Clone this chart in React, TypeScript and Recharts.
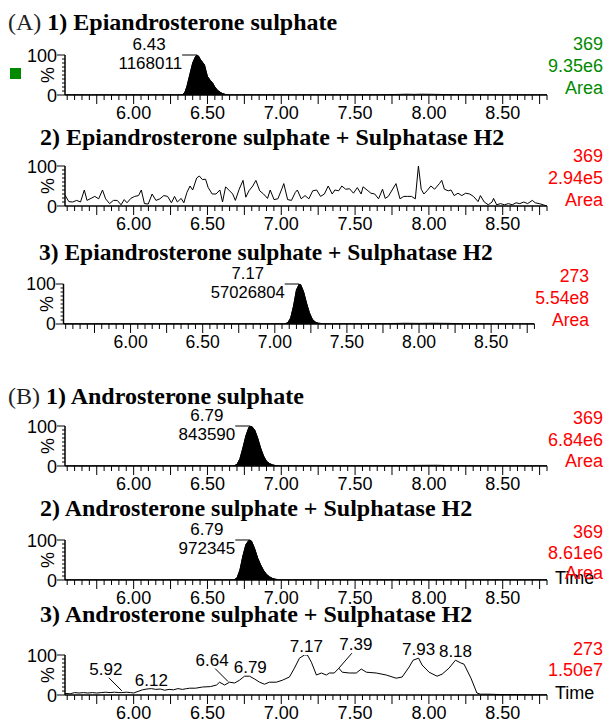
import React from 'react';
import { ComposedChart, Area, Line, XAxis, YAxis, ReferenceDot } from 'recharts';

type Pt = [number, number];

const xTickLabels = ['6.00', '6.50', '7.00', '7.50', '8.00', '8.50'];
const yTickLabels = ['0', '100'];

const a1Trace: Pt[] = [
  [5.535, 0.5], [5.6, 0.6], [5.7, 0.5], [5.8, 0.6], [5.9, 0.5], [6.0, 0.6], [6.1, 0.5], [6.2, 0.6], [6.3, 0.5],
  [6.33, 1], [6.345, 5], [6.36, 20], [6.38, 50], [6.4, 80], [6.42, 97], [6.43, 100], [6.44, 97], [6.45, 90],
  [6.47, 80], [6.48, 75], [6.49, 60], [6.5, 46], [6.52, 36], [6.535, 30], [6.55, 20], [6.57, 11], [6.59, 6],
  [6.6, 4], [6.62, 1.5], [6.65, 0.6], [6.7, 0.5], [6.8, 0.6], [6.9, 0.5], [7.0, 0.6], [7.1, 0.5], [7.2, 0.6],
  [7.3, 0.5], [7.4, 0.6], [7.5, 0.6], [7.6, 0.7], [7.7, 0.8], [7.8, 1.5], [7.85, 2], [7.9, 1.5], [7.95, 2],
  [8.0, 1.8], [8.05, 1.5], [8.1, 1.2], [8.2, 0.8], [8.3, 0.6], [8.4, 0.5], [8.5, 0.5], [8.6, 0.5], [8.7, 0.5], [8.8, 0.5],
];

const a2Trace: Pt[] = [
  [5.535, 27], [5.561, 11], [5.587, 10], [5.614, 14], [5.64, 10], [5.666, 40], [5.684, 14], [5.711, 19], [5.737, 24],
  [5.763, 18], [5.789, 40], [5.81, 18], [5.837, 6], [5.863, 14], [5.889, 14], [5.915, 3], [5.936, 16], [5.955, 8],
  [5.981, 19], [6.007, 24], [6.033, 26], [6.052, 40], [6.073, 6], [6.099, 5], [6.125, 30], [6.151, 14], [6.178, 18],
  [6.204, 26], [6.23, 24], [6.256, 8], [6.277, 24], [6.296, 10], [6.322, 19], [6.34, 8], [6.361, 34], [6.382, 50],
  [6.4, 40], [6.427, 70], [6.445, 75], [6.466, 66], [6.487, 67], [6.505, 46], [6.532, 30], [6.558, 30], [6.584, 40],
  [6.602, 10], [6.623, 48], [6.65, 38], [6.671, 30], [6.689, 14], [6.715, 42], [6.741, 64], [6.76, 22], [6.781, 38],
  [6.807, 50], [6.828, 64], [6.854, 38], [6.88, 30], [6.907, 19], [6.925, 40], [6.951, 16], [6.977, 18], [7.004, 43],
  [7.017, 56], [7.043, 16], [7.069, 14], [7.095, 34], [7.109, 40], [7.135, 18], [7.161, 26], [7.187, 18], [7.213, 38],
  [7.24, 40], [7.266, 24], [7.292, 30], [7.318, 50], [7.345, 30], [7.363, 40], [7.389, 38], [7.41, 50], [7.436, 42],
  [7.463, 43], [7.489, 32], [7.515, 46], [7.541, 30], [7.554, 48], [7.581, 40], [7.607, 32], [7.633, 30], [7.659, 18],
  [7.686, 42], [7.704, 19], [7.725, 24], [7.751, 40], [7.777, 56], [7.804, 18], [7.83, 24], [7.856, 24], [7.882, 24],
  [7.908, 18], [7.929, 100], [7.948, 42], [7.966, 30], [7.987, 38], [8.013, 50], [8.039, 42], [8.071, 56], [8.087, 64],
  [8.105, 42], [8.131, 38], [8.15, 40], [8.171, 26], [8.197, 32], [8.223, 26], [8.249, 32], [8.276, 30], [8.302, 24],
  [8.333, 11], [8.349, 26], [8.375, 10], [8.402, 3], [8.428, 10], [8.438, 19], [8.459, 3], [8.485, 6], [8.512, 3],
  [8.538, 6], [8.564, 3], [8.59, 8], [8.616, 6], [8.643, 10], [8.669, 6], [8.7, 14], [8.721, 8], [8.747, 6],
  [8.774, 3], [8.8, 0],
];

const a3Trace: Pt[] = [
  [5.535, 0.5], [5.7, 0.5], [5.9, 0.6], [6.1, 0.5], [6.3, 0.6], [6.5, 0.6], [6.7, 0.7], [6.9, 0.8], [7.0, 0.8],
  [7.07, 0.8], [7.09, 3], [7.11, 15], [7.13, 45], [7.15, 85], [7.17, 100], [7.18, 98], [7.2, 80], [7.22, 52],
  [7.24, 28], [7.26, 12], [7.28, 5], [7.3, 2], [7.33, 0.8], [7.4, 0.7], [7.5, 0.8], [7.6, 0.7], [7.7, 0.8],
  [7.8, 1.2], [7.9, 1.8], [8.0, 1.5], [8.1, 1.8], [8.2, 1.6], [8.3, 0.8], [8.4, 0.6], [8.6, 0.5], [8.8, 0.5],
];

const b1Trace: Pt[] = [
  [5.535, 0.5], [5.7, 0.5], [5.9, 0.6], [6.1, 0.5], [6.3, 0.6], [6.5, 0.8], [6.6, 0.6], [6.68, 0.6],
  [6.7, 4], [6.72, 18], [6.74, 45], [6.76, 75], [6.78, 96], [6.79, 100], [6.8, 99], [6.82, 90], [6.84, 70],
  [6.86, 45], [6.88, 25], [6.9, 12], [6.92, 6], [6.94, 3], [6.96, 1], [6.98, 0.6], [7.1, 0.7], [7.3, 0.8],
  [7.5, 0.7], [7.7, 0.8], [7.85, 1.2], [7.95, 1.6], [8.05, 1.8], [8.12, 1.2], [8.3, 0.6], [8.5, 0.5], [8.8, 0.5],
];

const b2Trace: Pt[] = [
  [5.535, 0.5], [5.7, 0.5], [5.9, 0.6], [6.1, 0.5], [6.3, 0.6], [6.5, 0.7], [6.6, 0.6], [6.68, 0.6],
  [6.7, 5], [6.72, 25], [6.74, 60], [6.76, 88], [6.78, 99], [6.79, 100], [6.8, 96], [6.82, 78], [6.84, 55],
  [6.86, 38], [6.88, 24], [6.9, 14], [6.92, 8], [6.94, 4], [6.96, 2], [6.98, 0.7], [7.1, 0.6], [7.3, 0.8],
  [7.5, 0.7], [7.7, 0.8], [7.9, 1.0], [8.1, 0.9], [8.3, 0.6], [8.5, 0.5], [8.8, 0.5],
];

const b3Trace: Pt[] = [
  [5.535, 4], [5.57, 3], [5.6, 6], [5.63, 5], [5.66, 6], [5.69, 5], [5.72, 6], [5.75, 5], [5.78, 6], [5.81, 7],
  [5.84, 6], [5.87, 7], [5.9, 6], [5.92, 6], [5.95, 7], [5.98, 6], [6.0, 5], [6.03, 9], [6.06, 13], [6.09, 15],
  [6.12, 16], [6.15, 14], [6.18, 15], [6.21, 12], [6.24, 14], [6.27, 13], [6.3, 16], [6.33, 14], [6.36, 16],
  [6.38, 17], [6.42, 17], [6.467, 20], [6.52, 21], [6.562, 25], [6.582, 32], [6.616, 25], [6.65, 32], [6.684, 30],
  [6.717, 37], [6.751, 47], [6.785, 47], [6.819, 40], [6.853, 32], [6.886, 27], [6.92, 32], [6.967, 32],
  [7.008, 37], [7.055, 45], [7.089, 67], [7.123, 92], [7.157, 100], [7.17, 100], [7.177, 100], [7.204, 82],
  [7.238, 50], [7.272, 55], [7.305, 50], [7.326, 55], [7.359, 55], [7.39, 67], [7.413, 57], [7.461, 55],
  [7.508, 55], [7.542, 65], [7.576, 57], [7.643, 55], [7.711, 50], [7.778, 42], [7.819, 45], [7.866, 70],
  [7.893, 87], [7.93, 92], [7.954, 75], [8.001, 57], [8.055, 47], [8.089, 52], [8.136, 67], [8.18, 87],
  [8.217, 80], [8.238, 77], [8.285, 42], [8.325, 5], [8.35, 2], [8.4, 2], [8.5, 1], [8.6, 1], [8.7, 0.5], [8.8, 0.5],
];

type Peak = { t: number; v: number; area?: string };

const a1Peaks: Peak[] = [{ t: 6.43, v: 100, area: '1168011' }];
const a3Peaks: Peak[] = [{ t: 7.17, v: 100, area: '57026804' }];
const b1Peaks: Peak[] = [{ t: 6.79, v: 100, area: '843590' }];
const b2Peaks: Peak[] = [{ t: 6.79, v: 100, area: '972345' }];
const b3Peaks: Peak[] = [
  { t: 5.92, v: 8 }, { t: 6.12, v: 16 }, { t: 6.64, v: 31 }, { t: 6.79, v: 47 },
  { t: 7.17, v: 100 }, { t: 7.39, v: 67 }, { t: 7.93, v: 92 }, { t: 8.18, v: 87 },
];
const b3LabelKinds = ['left', 'above', 'left', 'above', 'above', 'right', 'above', 'above'];

const a1Info = ['369', '9.35e6', 'Area'];
const a2Info = ['369', '2.94e5', 'Area'];
const a3Info = ['273', '5.54e8', 'Area'];
const b1Info = ['369', '6.84e6', 'Area'];
const b2Info = ['369', '8.61e6', 'Area'];
const b3Info = ['273', '1.50e7'];

const xTicks: number[] = [];
for (let k = 111; k <= 176; k++) xTicks.push(k / 20);
const yTicks: number[] = [];
for (let k = 0; k <= 10; k++) yTicks.push(k * 10);

const SANS = '"Liberation Sans", Arial, sans-serif';
const SERIF = '"Liberation Serif", "Times New Roman", serif';
const GREEN = '#008a00';
const RED = '#ff0000';

const XTick = (props: any) => {
  const { x, y, payload } = props;
  const val = payload.value as number;
  const h = Math.round(val * 100);
  const major = h % 25 === 0;
  const lab = xTickLabels.find((l) => Math.round(parseFloat(l) * 100) === h);
  return (
    <g>
      <line x1={x} x2={x} y1={y} y2={y + (major ? 9 : 5)} stroke="#000" strokeWidth={1} />
      {lab && (
        <text x={x} y={y + 24} textAnchor="middle" fontSize={18} fontFamily={SANS} fill="#000">
          {lab}
        </text>
      )}
    </g>
  );
};

const YTick = (props: any) => {
  const { x, y, payload } = props;
  const val = payload.value as number;
  const lab = yTickLabels.find((l) => parseFloat(l) === val);
  return (
    <g>
      <line x1={x - (lab ? 8 : 3)} x2={x} y1={y} y2={y} stroke="#000" strokeWidth={1} />
      {lab && (
        <text x={x - 8} y={y + 6.5} textAnchor="end" fontSize={18} fontFamily={SANS} fill="#000">
          {lab}
        </text>
      )}
      {val === 50 && (
        <text
          x={x - 17}
          y={y + 6}
          transform={`rotate(-90 ${x - 17} ${y})`}
          textAnchor="middle"
          fontSize={18}
          fontFamily={SANS}
          fill="#000"
        >
          %
        </text>
      )}
    </g>
  );
};

const annText = (x: number, y: number, s: string, anchor: string = 'middle') => (
  <text x={x} y={y} textAnchor={anchor as any} fontSize={17} fontFamily={SANS} fill="#000">
    {s}
  </text>
);

const makeShape = (p: Peak, kind: string) => (props: any) => {
  const cx = props.cx as number;
  const cy = props.cy as number;
  const lbl = p.t.toFixed(2);
  if (kind === 'box' && p.area) {
    const w = p.area.length * 9.45;
    const right = cx - 15;
    return (
      <g>
        <line x1={right} x2={cx} y1={cy} y2={cy} stroke="#000" strokeWidth={1} />
        {annText(right - w / 2, cy - 5, lbl)}
        {annText(right, cy + 14, p.area, 'end')}
      </g>
    );
  }
  if (kind === 'left') {
    return (
      <g>
        <line x1={cx - 13} y1={cy - 14} x2={cx} y2={cy - 1} stroke="#000" strokeWidth={1} />
        {annText(cx - 16, cy - 17, lbl)}
      </g>
    );
  }
  if (kind === 'right') {
    return (
      <g>
        <line x1={cx + 13} y1={cy - 15} x2={cx} y2={cy} stroke="#000" strokeWidth={1} />
        {annText(cx + 17, cy - 18, lbl)}
      </g>
    );
  }
  return <g>{annText(cx, cy - 3, lbl)}</g>;
};

const MT = 30;
const PH = 40;
const XH = 32;
const CH = MT + PH + XH;

type PanelProps = {
  level100: number;
  titleY: number;
  prefix?: string;
  title: string;
  titleX: number;
  trace: Pt[];
  fill?: [number, number];
  peaks: Peak[];
  kinds: string[];
  info: string[];
  infoY: number[];
  color: string;
  time?: boolean;
  squeeze?: number;
};

function Panel(p: PanelProps) {
  const data = p.trace.map(([t, v]) => ({
    t,
    v,
    f: p.fill && t >= p.fill[0] && t <= p.fill[1] ? v : null,
  }));
  return (
    <div
      style={{
        position: 'absolute',
        left: 0,
        top: 0,
        width: 609,
        height: 722,
        transform: p.squeeze ? `scaleX(${p.squeeze})` : undefined,
        transformOrigin: '0 0',
        pointerEvents: 'none',
      }}
    >
      <div
        style={{
          position: 'absolute',
          left: p.titleX,
          top: p.titleY - 14,
          fontFamily: SERIF,
          fontSize: 24,
          lineHeight: '28px',
          whiteSpace: 'nowrap',
          color: '#000',
        }}
      >
        {p.prefix && <span style={{ fontWeight: 400, color: '#222' }}>{p.prefix} </span>}
        <span style={{ fontWeight: 700 }}>{p.title}</span>
      </div>
      <div style={{ position: 'absolute', left: 0, top: p.level100 - MT }}>
        <ComposedChart width={609} height={CH} data={data} margin={{ top: MT, right: 62, bottom: 0, left: 0 }}>
          <XAxis
            type="number"
            dataKey="t"
            domain={[5.535, 8.8]}
            allowDataOverflow
            ticks={xTicks}
            interval={0}
            tick={<XTick />}
            tickLine={false}
            tickSize={0}
            tickMargin={0}
            height={XH}
            axisLine={{ stroke: '#000', strokeWidth: 1.5 }}
          />
          <YAxis
            type="number"
            domain={[0, 100]}
            allowDataOverflow
            ticks={yTicks}
            interval={0}
            tick={<YTick />}
            tickLine={false}
            tickSize={0}
            tickMargin={0}
            width={65}
            axisLine={{ stroke: '#000', strokeWidth: 1.5 }}
          />
          <Area
            dataKey="f"
            type="linear"
            stroke="#000"
            strokeWidth={1}
            fill="#000"
            fillOpacity={1}
            connectNulls={false}
            dot={false}
            activeDot={false}
            isAnimationActive={false}
          />
          <Line
            dataKey="v"
            type="linear"
            stroke="#000"
            strokeWidth={1}
            dot={false}
            activeDot={false}
            isAnimationActive={false}
          />
          {p.peaks.map((pk, i) => (
            <ReferenceDot
              key={i}
              x={pk.t}
              y={pk.v}
              r={1}
              ifOverflow="visible"
              shape={makeShape(pk, p.kinds[i] || 'box')}
            />
          ))}
        </ComposedChart>
      </div>
      {p.time && (
        <div
          style={{
            position: 'absolute',
            left: 555,
            top: p.level100 + PH - 13,
            fontFamily: SANS,
            fontSize: 18,
            lineHeight: '22px',
            color: '#000',
          }}
        >
          Time
        </div>
      )}
      {p.info.map((s, i) => (
        <div
          key={i}
          style={{
            position: 'absolute',
            right: 6,
            top: p.infoY[i] - 11,
            fontFamily: SANS,
            fontSize: 18,
            lineHeight: '22px',
            color: p.color,
            textAlign: 'right',
            whiteSpace: 'nowrap',
          }}
        >
          {s}
        </div>
      ))}
    </div>
  );
}

export default function App() {
  return (
    <div style={{ position: 'absolute', left: 0, top: 0, width: 609, height: 722, background: '#fff', overflow: 'hidden' }}>
      <div style={{ position: 'absolute', left: 10, top: 68, width: 11, height: 11, background: GREEN }} />
      <Panel level100={55} titleY={22} prefix="(A)" titleX={8} title="1) Epiandrosterone sulphate"
        trace={a1Trace} fill={[6.33, 6.63]} peaks={a1Peaks} kinds={['box']} info={a1Info} infoY={[44, 66, 88]} color={GREEN} />
      <Panel level100={166} titleY={137} titleX={40} title="2) Epiandrosterone sulphate + Sulphatase H2"
        trace={a2Trace} peaks={[]} kinds={[]} info={a2Info} infoY={[156, 178, 200]} color={RED} />
      <Panel level100={284} titleY={252} titleX={40} title="3) Epiandrosterone sulphate + Sulphatase H2"
        trace={a3Trace} fill={[7.07, 7.33]} peaks={a3Peaks} kinds={['box']} info={a3Info} infoY={[276, 298, 320]} color={RED} squeeze={0.977} />
      <Panel level100={426} titleY={396} prefix="(B)" titleX={8} title="1) Androsterone sulphate"
        trace={b1Trace} fill={[6.68, 6.98]} peaks={b1Peaks} kinds={['box']} info={b1Info} infoY={[418, 440, 461]} color={RED} />
      <Panel level100={540} titleY={508} titleX={40} title="2) Androsterone sulphate + Sulphatase H2"
        trace={b2Trace} fill={[6.68, 6.98]} peaks={b2Peaks} kinds={['box']} info={b2Info} infoY={[532, 553, 573]} color={RED} time />
      <Panel level100={655} titleY={614} titleX={40} title="3) Androsterone sulphate + Sulphatase H2"
        trace={b3Trace} peaks={b3Peaks} kinds={b3LabelKinds} info={b3Info} infoY={[649, 670]} color={RED} time />
    </div>
  );
}
